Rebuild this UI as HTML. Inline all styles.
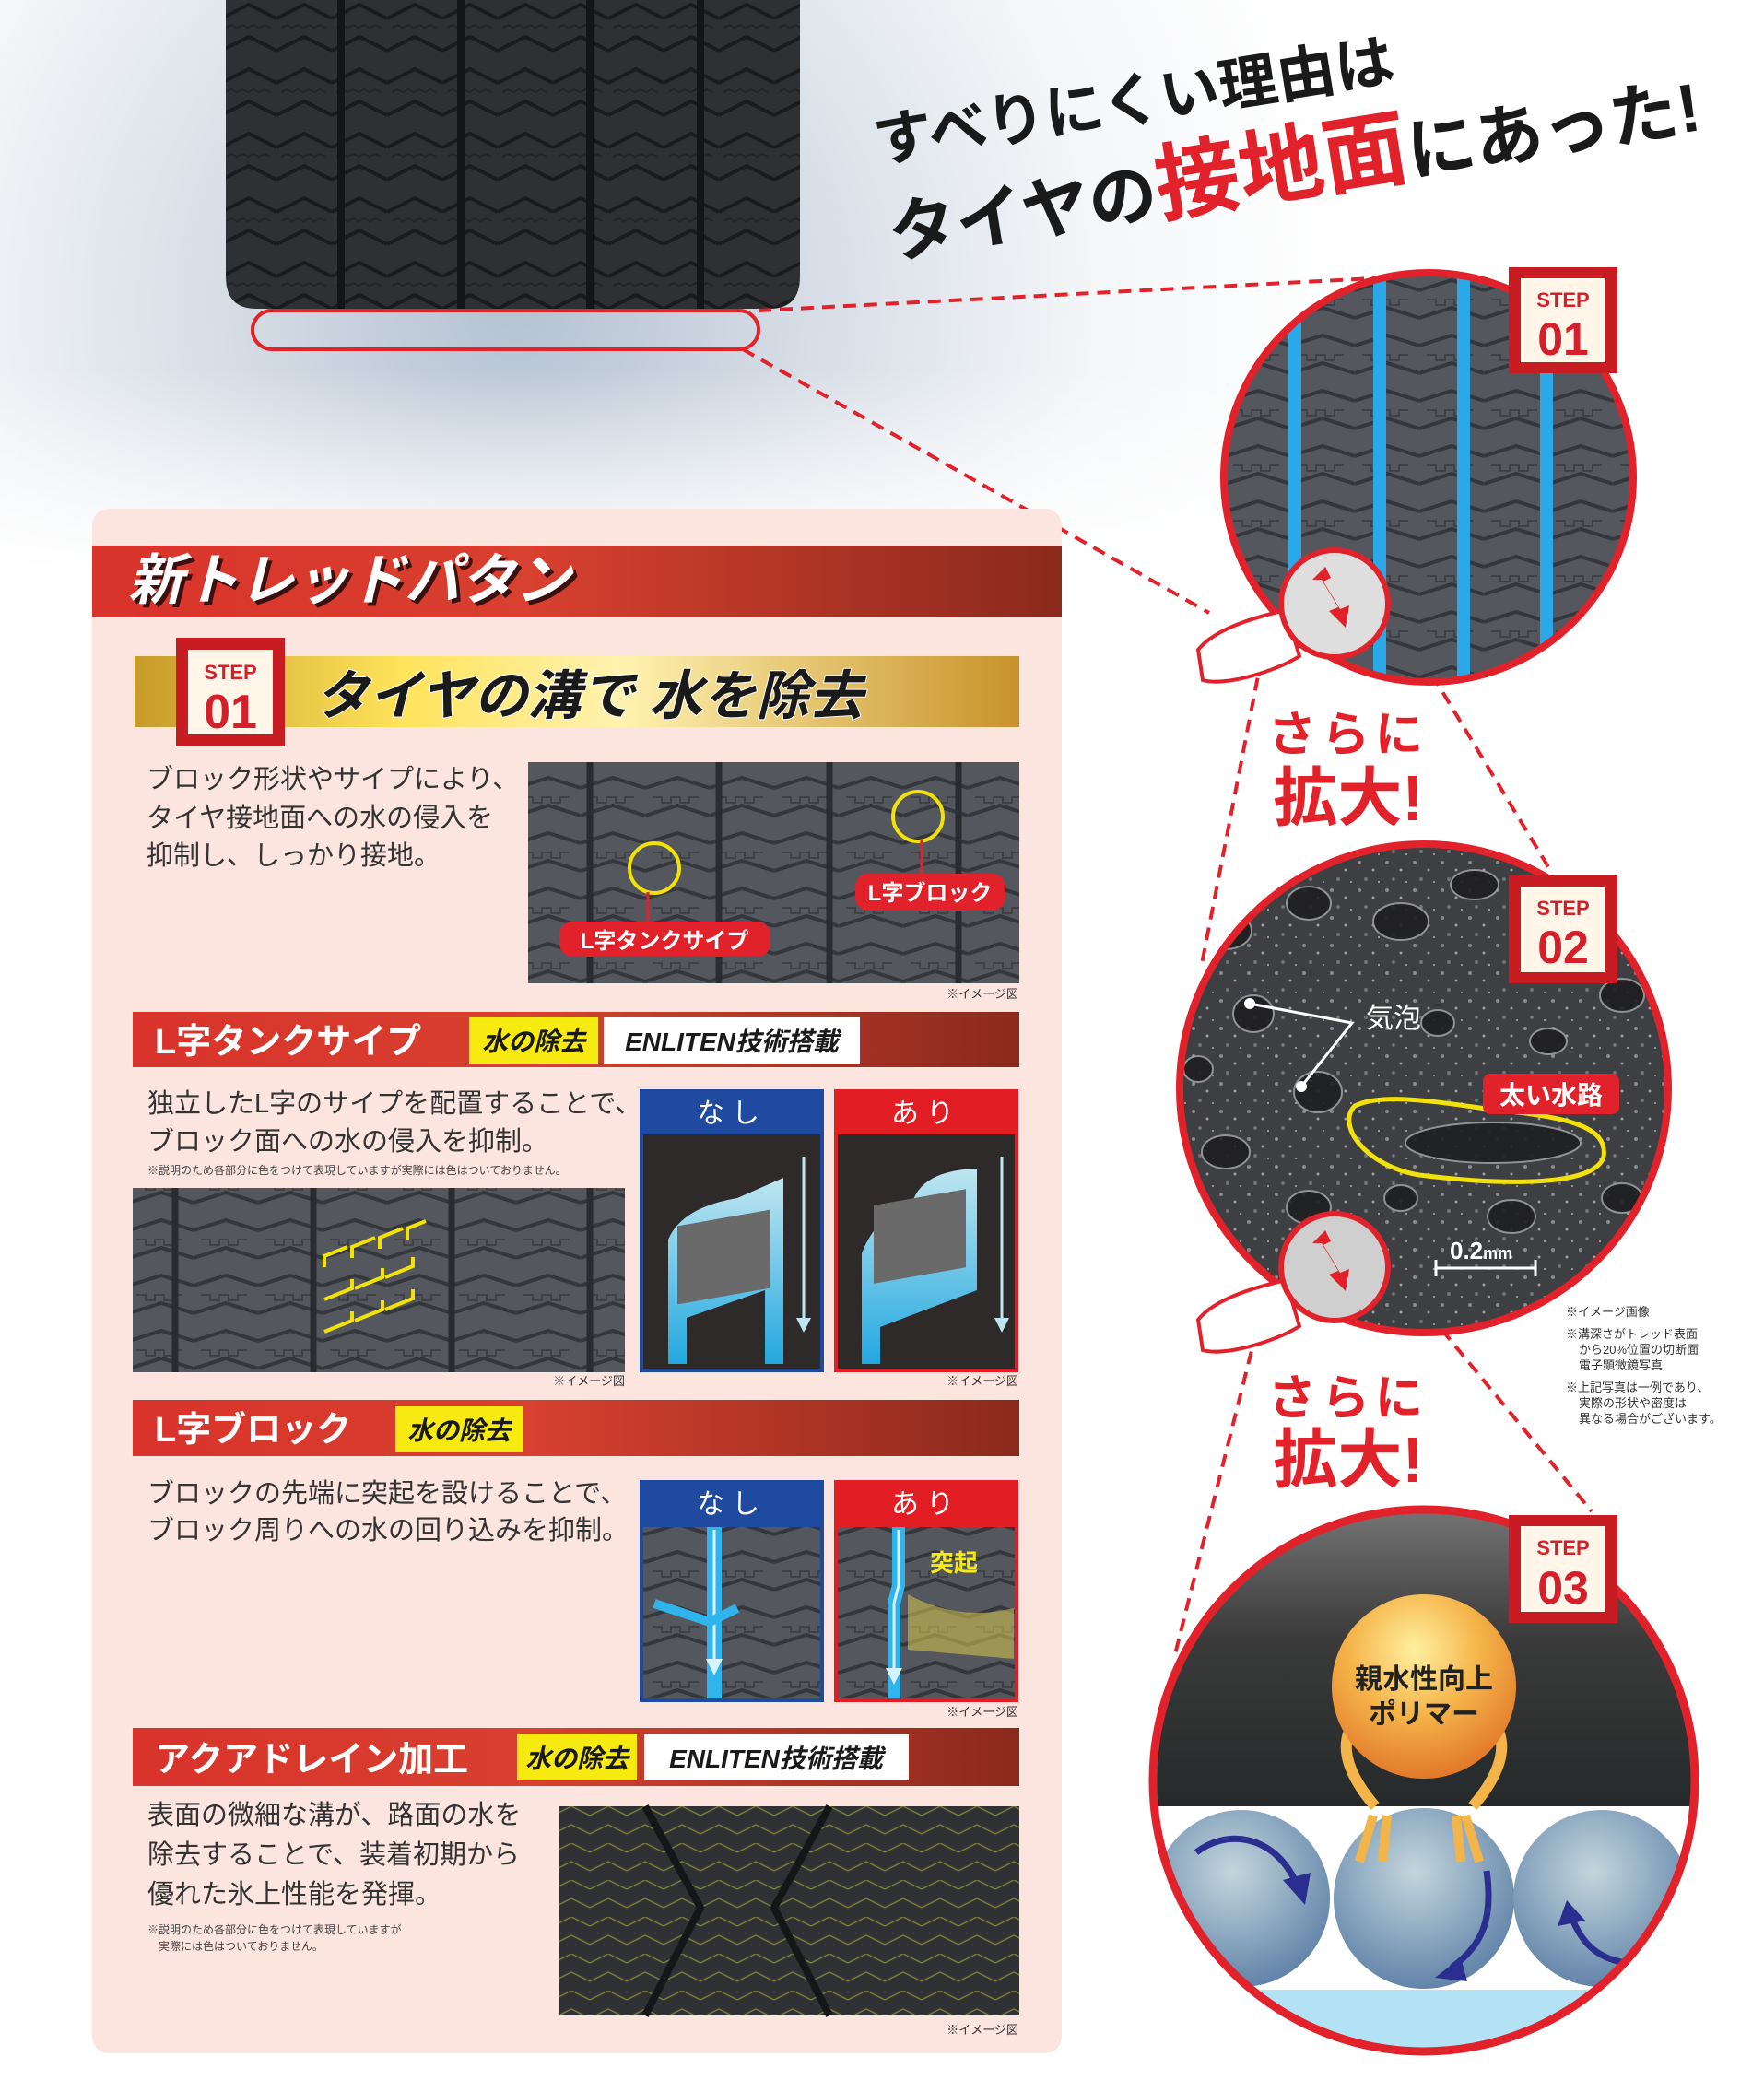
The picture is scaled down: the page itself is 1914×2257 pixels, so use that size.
<!DOCTYPE html>
<html><head><meta charset="utf-8">
<style>
html,body{margin:0;padding:0;background:#fff;}
body{width:1914px;height:2257px;overflow:hidden;position:relative;font-family:"Liberation Sans","Noto Sans CJK JP",sans-serif;}
svg text{font-family:"Liberation Sans","Noto Sans CJK JP",sans-serif;}
</style></head><body>
<svg width="1914" height="2257" viewBox="0 0 1914 2257" xmlns="http://www.w3.org/2000/svg" style="position:absolute;left:0;top:0">
<defs>
<radialGradient id="snow" cx="560" cy="330" r="900" gradientUnits="userSpaceOnUse">
<stop offset="0" stop-color="#b4c2d2"/><stop offset="0.35" stop-color="#d6dde6"/><stop offset="0.7" stop-color="#f4f6f8"/><stop offset="1" stop-color="#ffffff"/>
</radialGradient>
<linearGradient id="fadeW" x1="0" y1="0" x2="0" y2="1"><stop offset="0" stop-color="#fff" stop-opacity="0"/><stop offset="1" stop-color="#fff"/></linearGradient>
<pattern id="tread" width="60" height="70" patternUnits="userSpaceOnUse">
<rect width="60" height="70" fill="#2e3034"/>
<path d="M0 20 L30 5 L60 20 M0 55 L30 40 L60 55" stroke="#1a1b1d" stroke-width="4" fill="none"/>
<path d="M5 30 l6 -3 l6 3 l6 -3 l6 3 l6 -3 l6 3 l6 -3 l6 3" stroke="#232427" stroke-width="2" fill="none"/>
</pattern>
<pattern id="tread2" width="70" height="60" patternUnits="userSpaceOnUse">
<rect width="70" height="60" fill="#54585e"/>
<path d="M0 15 L35 4 L70 15 M0 45 L35 34 L70 45" stroke="#34373b" stroke-width="4" fill="none"/>
<path d="M8 25 h10 v6 h10 v-6 h10 v6 h10 v-6 h10" stroke="#3e4146" stroke-width="2" fill="none"/>
</pattern>
<pattern id="tread3" width="40" height="40" patternUnits="userSpaceOnUse">
<rect width="40" height="40" fill="#2f3134"/>
<path d="M0 10 L20 0 L40 10 M0 30 L20 20 L40 30" stroke="#7a7a3a" stroke-width="1.5" fill="none"/>
</pattern>
<pattern id="speck" width="30" height="30" patternUnits="userSpaceOnUse">
<rect width="30" height="30" fill="#3e3f42"/>
<circle cx="5" cy="6" r="2" fill="#8a8c90"/><circle cx="20" cy="14" r="1.5" fill="#a0a2a6"/><circle cx="12" cy="24" r="2" fill="#707276"/><circle cx="26" cy="27" r="1" fill="#b0b2b6"/>
</pattern>
<linearGradient id="redbar" x1="0" x2="1"><stop offset="0" stop-color="#d9332b"/><stop offset="0.45" stop-color="#d8402f"/><stop offset="1" stop-color="#8a2a1c"/></linearGradient>
<linearGradient id="gold" x1="0" x2="1"><stop offset="0" stop-color="#c79a2a"/><stop offset="0.3" stop-color="#ffe35a"/><stop offset="0.55" stop-color="#fff2b0"/><stop offset="1" stop-color="#c8922a"/></linearGradient>
<radialGradient id="orange" cx="0.45" cy="0.3" r="0.7"><stop offset="0" stop-color="#fff0a0"/><stop offset="0.5" stop-color="#f5b54a"/><stop offset="1" stop-color="#e2792a"/></radialGradient>
<radialGradient id="blue" cx="0.45" cy="0.35" r="0.7"><stop offset="0" stop-color="#c3d6dc"/><stop offset="1" stop-color="#5b7ea6"/></radialGradient>
<linearGradient id="dark3" x1="0" y1="0" x2="0" y2="1"><stop offset="0" stop-color="#777"/><stop offset="0.45" stop-color="#3a3a3a"/><stop offset="1" stop-color="#262a2a"/></linearGradient>
<linearGradient id="water" x1="0" y1="0" x2="0" y2="1"><stop offset="0" stop-color="#bfe6f0"/><stop offset="1" stop-color="#22a8e0"/></linearGradient>
<clipPath id="c1"><circle cx="1550" cy="518" r="222"/></clipPath>
<clipPath id="c2"><circle cx="1545" cy="1181" r="265"/></clipPath>
<clipPath id="c3"><circle cx="1545" cy="1932" r="294"/></clipPath>
</defs>

<!-- snow bg -->
<rect x="0" y="0" width="1914" height="620" fill="url(#snow)"/>
<rect x="0" y="400" width="1914" height="220" fill="url(#fadeW)"/>
<!-- tire -->
<path d="M245 0 H868 V300 Q868 335 835 335 H278 Q245 335 245 300 Z" fill="url(#tread)"/>
<path d="M370 0 V335 M500 0 V335 M640 0 V335 M760 0 V335" stroke="#141516" stroke-width="8"/>
<rect x="274" y="337" width="549" height="42" rx="21" fill="none" stroke="#e0242a" stroke-width="4"/>
<!-- headline -->
<g transform="translate(942,112) rotate(-9)">
<text x="0" y="65" font-size="64" font-weight="bold" fill="#1a1a1a">すべりにくい理由は</text>
<text x="0" y="170" font-size="74" font-weight="bold" fill="#1a1a1a">タイヤの<tspan fill="#e2222a" font-size="92">接地面</tspan>にあった!</text>
</g>

<!-- dashed connectors -->
<g stroke="#e2222a" stroke-width="4" stroke-dasharray="14 9" fill="none">
<path d="M823 337 L1490 302"/>
<path d="M806 379 L1312 665"/>
<path d="M1369 713 L1304 1046"/>
<path d="M1506 653 L1682 944"/>
<path d="M1369 1422 L1274 1799"/>
<path d="M1506 1372 L1727 1640"/>
</g>

<!-- circle 1 -->
<g clip-path="url(#c1)">
<rect x="1320" y="290" width="460" height="460" fill="url(#tread2)"/>
<g stroke="#2aa8e8" stroke-width="14"><path d="M1405 290V750M1497 290V750M1588 290V750M1678 290V750"/></g>
</g>
<circle cx="1550" cy="518" r="222" fill="none" stroke="#e2222a" stroke-width="8"/>
<!-- mag 1 -->
<path d="M1300 705 C1320 680 1370 668 1395 662 L1410 712 C1385 728 1330 745 1305 738 Z" fill="#fff" stroke="#e2222a" stroke-width="4"/>
<circle cx="1448" cy="655" r="58" fill="#dedede" stroke="#e2222a" stroke-width="6"/>
<path d="M1438 615 l-14 14 l10 0 l18 30 l-10 4 l18 18 l4 -24 l-10 4 l-18 -30 l8 -4 z" fill="#e2222a"/>
<!-- さらに 1 -->
<text x="1463" y="815" font-size="52" font-weight="bold" fill="#e2222a" text-anchor="middle" letter-spacing="6">さらに</text>
<text x="1463" y="890" font-size="70" font-weight="bold" fill="#e2222a" text-anchor="middle">拡大!</text>

<!-- circle 2 -->
<g clip-path="url(#c2)">
<rect x="1270" y="910" width="560" height="540" fill="url(#speck)"/>
<g fill="#1e1f21" stroke="#9a9ca0" stroke-width="2" opacity="0.9">
<ellipse cx="1330" cy="1010" rx="28" ry="20"/><ellipse cx="1420" cy="980" rx="24" ry="18"/><ellipse cx="1520" cy="1000" rx="30" ry="20"/>
<ellipse cx="1600" cy="960" rx="26" ry="16"/><ellipse cx="1680" cy="1020" rx="30" ry="22"/><ellipse cx="1760" cy="1080" rx="24" ry="18"/>
<ellipse cx="1360" cy="1100" rx="22" ry="20"/><ellipse cx="1430" cy="1185" rx="26" ry="22"/><ellipse cx="1330" cy="1250" rx="26" ry="18"/>
<ellipse cx="1560" cy="1110" rx="18" ry="14"/><ellipse cx="1680" cy="1130" rx="20" ry="14"/><ellipse cx="1420" cy="1310" rx="24" ry="18"/>
<ellipse cx="1520" cy="1300" rx="18" ry="14"/><ellipse cx="1640" cy="1320" rx="26" ry="18"/><ellipse cx="1760" cy="1300" rx="22" ry="16"/>
<ellipse cx="1300" cy="1160" rx="16" ry="14"/><ellipse cx="1620" cy="1240" rx="95" ry="22"/>
</g>
</g>
<path d="M1470 1200 C1500 1185 1560 1196 1620 1204 C1700 1212 1745 1222 1740 1255 C1730 1290 1620 1285 1540 1275 C1480 1265 1450 1220 1470 1200 Z" fill="none" stroke="#f2e20a" stroke-width="5"/>
<rect x="1609" y="1165" width="148" height="44" rx="8" fill="#e2222a"/>
<text x="1683" y="1198" font-size="28" font-weight="bold" fill="#fff" text-anchor="middle">太い水路</text>
<path d="M1356 1089 L1467 1110 L1412 1179" stroke="#fff" stroke-width="3" fill="none"/>
<circle cx="1356" cy="1089" r="6" fill="#fff"/><circle cx="1412" cy="1179" r="6" fill="#fff"/>
<text x="1482" y="1115" font-size="30" fill="#fff">気泡</text>
<text x="1573" y="1366" font-size="26" font-weight="bold" fill="#fff">0.2<tspan font-size="18">mm</tspan></text>
<path d="M1558 1367 V1385 M1558 1376 H1666 M1666 1367 V1385" stroke="#fff" stroke-width="3" fill="none"/>
<circle cx="1545" cy="1181" r="265" fill="none" stroke="#e2222a" stroke-width="8"/>
<!-- mag 2 -->
<path d="M1300 1432 C1320 1407 1370 1395 1395 1389 L1410 1439 C1385 1455 1330 1472 1305 1465 Z" fill="#fff" stroke="#e2222a" stroke-width="4"/>
<circle cx="1448" cy="1375" r="58" fill="#cfcfcf" stroke="#e2222a" stroke-width="6"/>
<path d="M1438 1335 l-14 14 l10 0 l18 30 l-10 4 l18 18 l4 -24 l-10 4 l-18 -30 l8 -4 z" fill="#e2222a"/>
<!-- notes -->
<g font-size="13" fill="#333">
<text x="1699" y="1428">※イメージ画像</text>
<text x="1699" y="1452">※溝深さがトレッド表面</text>
<text x="1713" y="1469">から20%位置の切断面</text>
<text x="1713" y="1486">電子顕微鏡写真</text>
<text x="1699" y="1510">※上記写真は一例であり、</text>
<text x="1713" y="1527">実際の形状や密度は</text>
<text x="1713" y="1544">異なる場合がございます。</text>
</g>
<!-- さらに 2 -->
<text x="1463" y="1535" font-size="52" font-weight="bold" fill="#e2222a" text-anchor="middle" letter-spacing="6">さらに</text>
<text x="1463" y="1608" font-size="70" font-weight="bold" fill="#e2222a" text-anchor="middle">拡大!</text>

<!-- circle 3 -->
<g clip-path="url(#c3)">
<rect x="1240" y="1630" width="620" height="330" fill="url(#dark3)"/>
<rect x="1240" y="1960" width="620" height="200" fill="#fff"/>
<rect x="1240" y="2159" width="620" height="80" fill="#b3e2f5"/>
<circle cx="1347" cy="2060" r="96" fill="url(#blue)"/>
<circle cx="1545" cy="2060" r="98" fill="url(#blue)"/>
<circle cx="1738" cy="2060" r="96" fill="url(#blue)"/>
</g>
<path d="M1492 1960 C1440 1900 1460 1860 1500 1855 M1598 1960 C1650 1900 1630 1860 1590 1855" stroke="#f3b54a" stroke-width="12" fill="none"/>
<path d="M1490 1970 l-15 50 M1505 1970 l-5 50 M1590 1970 l15 50 M1580 1970 l5 50" stroke="#f3b54a" stroke-width="10"/>
<circle cx="1545" cy="1830" r="100" fill="url(#orange)"/>
<text x="1545" y="1832" font-size="30" font-weight="bold" fill="#222" text-anchor="middle">親水性向上</text>
<text x="1545" y="1870" font-size="30" font-weight="bold" fill="#222" text-anchor="middle">ポリマー</text>
<g stroke="#2a2f8f" stroke-width="7" fill="none">
<path d="M1298 2010 C1330 1985 1380 1990 1405 2040"/>
<path d="M1613 2030 C1620 2080 1610 2110 1575 2135"/>
<path d="M1765 2130 C1730 2125 1715 2105 1705 2080"/>
</g>
<path d="M1392 2040 l30 -8 l-6 35 z M1585 2124 l-28 22 l35 4 z M1690 2090 l10 -28 l20 22 z" fill="#2a2f8f"/>
<circle cx="1545" cy="1932" r="294" fill="none" stroke="#e2222a" stroke-width="9"/>

<!-- right badges -->
<rect x="1637" y="290" width="118" height="115" fill="#c71c22"/>
<rect x="1650" y="302" width="92" height="91" fill="#fff5e8"/>
<text x="1696" y="333" font-size="22" font-weight="bold" fill="#d4202a" text-anchor="middle">STEP</text>
<text x="1696" y="385" font-size="50" font-weight="bold" fill="#d4202a" text-anchor="middle">01</text>
<rect x="1637" y="950" width="118" height="117" fill="#c71c22"/>
<rect x="1650" y="962" width="92" height="93" fill="#fff5e8"/>
<text x="1696" y="993" font-size="22" font-weight="bold" fill="#d4202a" text-anchor="middle">STEP</text>
<text x="1696" y="1045" font-size="50" font-weight="bold" fill="#d4202a" text-anchor="middle">02</text>
<rect x="1637" y="1644" width="118" height="117" fill="#c71c22"/>
<rect x="1650" y="1656" width="92" height="93" fill="#fff5e8"/>
<text x="1696" y="1687" font-size="22" font-weight="bold" fill="#d4202a" text-anchor="middle">STEP</text>
<text x="1696" y="1740" font-size="50" font-weight="bold" fill="#d4202a" text-anchor="middle">03</text>

<!-- left panel -->
<rect x="100" y="552" width="1052" height="1676" rx="18" fill="#fbe5de"/>
<rect x="100" y="592" width="1052" height="77" fill="url(#redbar)"/>
<text x="143" y="654" font-size="60" font-weight="bold" fill="#3a1010" font-style="italic">新トレッドパタン</text>
<text x="139" y="650" font-size="60" font-weight="bold" fill="#fff" font-style="italic">新トレッドパタン</text>

<rect x="146" y="712" width="960" height="77" fill="url(#gold)"/>
<rect x="191" y="692" width="118" height="118" fill="#c71c22"/>
<rect x="204" y="705" width="92" height="92" fill="#fff5e8"/>
<text x="250" y="737" font-size="22" font-weight="bold" fill="#d4202a" text-anchor="middle">STEP</text>
<text x="250" y="790" font-size="52" font-weight="bold" fill="#d4202a" text-anchor="middle">01</text>
<text x="342" y="775" font-size="58" font-weight="bold" fill="#1a1a1a" font-style="italic" stroke="#fff" stroke-width="2" paint-order="stroke">タイヤの溝で 水を除去</text>

<g font-size="29" fill="#333">
<text x="159" y="855">ブロック形状やサイプにより、</text>
<text x="159" y="897">タイヤ接地面への水の侵入を</text>
<text x="159" y="938">抑制し、しっかり接地。</text>
</g>
<rect x="573" y="827" width="533" height="240" fill="url(#tread2)"/>
<path d="M640 827V1067M780 827V1067M900 827V1067M1040 827V1067" stroke="#2a2c30" stroke-width="7"/>
<circle cx="710" cy="942" r="27" fill="none" stroke="#f2e20a" stroke-width="4"/>
<circle cx="996" cy="886" r="27" fill="none" stroke="#f2e20a" stroke-width="4"/>
<path d="M703 968 V1002 M1000 912 V950" stroke="#e2222a" stroke-width="3"/>
<rect x="607" y="1000" width="229" height="38" rx="14" fill="#e2222a"/>
<text x="721" y="1029" font-size="24" font-weight="bold" fill="#fff" text-anchor="middle">L字タンクサイプ</text>
<rect x="928" y="948" width="163" height="40" rx="14" fill="#e2222a"/>
<text x="1009" y="977" font-size="24" font-weight="bold" fill="#fff" text-anchor="middle">L字ブロック</text>
<g font-size="13" fill="#333" text-anchor="end">
<text x="1105" y="1083">※イメージ図</text>
<text x="678" y="1503">※イメージ図</text>
<text x="1105" y="1503">※イメージ図</text>
<text x="1105" y="1862">※イメージ図</text>
<text x="1105" y="2207">※イメージ図</text>
</g>

<!-- L字タンクサイプ -->
<rect x="144" y="1098" width="962" height="60" fill="url(#redbar)"/>
<text x="168" y="1143" font-size="38" font-weight="bold" fill="#fff">L字タンクサイプ</text>
<rect x="509" y="1104" width="140" height="50" fill="#f7ea10"/>
<text x="579" y="1140" font-size="28" font-weight="bold" fill="#1a1a1a" text-anchor="middle" font-style="italic">水の除去</text>
<rect x="655" y="1104" width="278" height="50" fill="#fff"/>
<text x="794" y="1140" font-size="28" font-weight="bold" fill="#1a1a1a" text-anchor="middle" font-style="italic">ENLITEN技術搭載</text>
<g font-size="29" fill="#333">
<text x="160" y="1207">独立したL字のサイプを配置することで、</text>
<text x="160" y="1248">ブロック面への水の侵入を抑制。</text>
</g>
<text x="160" y="1274" font-size="12" fill="#444">※説明のため各部分に色をつけて表現していますが実際には色はついておりません。</text>
<rect x="144" y="1289" width="534" height="200" fill="url(#tread2)"/>
<path d="M190 1289V1489M340 1289V1489M490 1289V1489M640 1289V1489" stroke="#2a2c30" stroke-width="7"/>
<g stroke="#f2e20a" stroke-width="4" fill="none">
<path d="M352 1375 l0 -12 l25 -10 M382 1365 l0 -12 l25 -10 M412 1355 l0 -12 l25 -10 M442 1345 l0 -12 l20 -8"/>
<path d="M352 1410 l30 -12 l0 -10 M385 1398 l30 -12 l0 -10 M418 1386 l30 -12 l0 -10"/>
<path d="M352 1445 l30 -12 l0 -10 M385 1433 l30 -12 l0 -10 M418 1421 l30 -12 l0 -10"/>
</g>
<!-- なし/あり 1 -->
<rect x="694" y="1182" width="200" height="307" fill="#1f4aa0"/>
<rect x="698" y="1231" width="192" height="254" fill="#2e2a2a"/>
<text x="794" y="1218" font-size="30" fill="#fff" text-anchor="middle" letter-spacing="8">なし</text>
<path d="M725 1480 L725 1345 Q740 1310 800 1300 L850 1278 L850 1480 L830 1480 L830 1400 L745 1430 L745 1480 Z" fill="url(#water)"/>
<rect x="735" y="1320" width="100" height="85" fill="#6a6a6a" transform="skewY(-10) translate(0,140)"/>
<path d="M872 1255 V1430" stroke="#bfe6f0" stroke-width="3"/><path d="M864 1430 l8 16 l8 -16z" fill="#bfe6f0"/>
<rect x="905" y="1182" width="200" height="307" fill="#e21d24"/>
<rect x="909" y="1231" width="192" height="254" fill="#2e2a2a"/>
<text x="1005" y="1218" font-size="30" fill="#fff" text-anchor="middle" letter-spacing="8">あり</text>
<path d="M935 1480 L935 1360 Q950 1320 990 1305 Q1000 1270 1060 1268 L1060 1400 L955 1440 L955 1480 Z" fill="url(#water)"/>
<rect x="948" y="1300" width="100" height="85" fill="#6a6a6a" transform="skewY(-10) translate(0,175)"/>
<path d="M1087 1255 V1430" stroke="#bfe6f0" stroke-width="3"/><path d="M1079 1430 l8 16 l8 -16z" fill="#bfe6f0"/>

<!-- L字ブロック -->
<rect x="144" y="1519" width="962" height="61" fill="url(#redbar)"/>
<text x="168" y="1564" font-size="38" font-weight="bold" fill="#fff">L字ブロック</text>
<rect x="429" y="1526" width="139" height="50" fill="#f7ea10"/>
<text x="498" y="1562" font-size="28" font-weight="bold" fill="#1a1a1a" text-anchor="middle" font-style="italic">水の除去</text>
<g font-size="29" fill="#333">
<text x="160" y="1630">ブロックの先端に突起を設けることで、</text>
<text x="160" y="1670">ブロック周りへの水の回り込みを抑制。</text>
</g>
<rect x="694" y="1606" width="200" height="241" fill="#1f4aa0"/>
<rect x="698" y="1657" width="192" height="186" fill="url(#tread2)"/>
<text x="794" y="1642" font-size="30" fill="#fff" text-anchor="middle" letter-spacing="8">なし</text>
<path d="M775 1657 V1843" stroke="#2fb4ee" stroke-width="16"/>
<path d="M775 1660 V1805" stroke="#d8f3ff" stroke-width="3"/><path d="M766 1800 l9 18 l9 -18z" fill="#d8f3ff"/>
<path d="M710 1740 L770 1760 L800 1745" stroke="#2fb4ee" stroke-width="10" fill="none"/>
<rect x="905" y="1606" width="200" height="241" fill="#e21d24"/>
<rect x="909" y="1657" width="192" height="186" fill="url(#tread2)"/>
<text x="1005" y="1642" font-size="30" fill="#fff" text-anchor="middle" letter-spacing="8">あり</text>
<path d="M975 1657 V1720 L970 1740 V1843" stroke="#2fb4ee" stroke-width="14" fill="none"/>
<path d="M975 1660 V1720 L970 1740 V1815" stroke="#d8f3ff" stroke-width="3" fill="none"/><path d="M961 1810 l9 18 l9 -18z" fill="#d8f3ff"/>
<path d="M985 1730 Q1040 1760 1100 1745 L1100 1800 L985 1790 Z" fill="#d8c84a" opacity="0.55"/>
<text x="1035" y="1705" font-size="26" font-weight="bold" fill="#f7ea10" text-anchor="middle">突起</text>

<!-- アクアドレイン -->
<rect x="144" y="1875" width="962" height="63" fill="url(#redbar)"/>
<text x="168" y="1922" font-size="38" font-weight="bold" fill="#fff">アクアドレイン加工</text>
<rect x="561" y="1882" width="130" height="50" fill="#f7ea10"/>
<text x="626" y="1918" font-size="28" font-weight="bold" fill="#1a1a1a" text-anchor="middle" font-style="italic">水の除去</text>
<rect x="699" y="1882" width="287" height="50" fill="#fff"/>
<text x="842" y="1918" font-size="28" font-weight="bold" fill="#1a1a1a" text-anchor="middle" font-style="italic">ENLITEN技術搭載</text>
<g font-size="29" fill="#333">
<text x="160" y="1979">表面の微細な溝が、路面の水を</text>
<text x="160" y="2022">除去することで、装着初期から</text>
<text x="160" y="2065">優れた氷上性能を発揮。</text>
</g>
<text x="160" y="2098" font-size="12" fill="#444">※説明のため各部分に色をつけて表現していますが</text>
<text x="172" y="2116" font-size="12" fill="#444">実際には色はついておりません。</text>
<rect x="607" y="1960" width="499" height="227" fill="url(#tread3)"/>
<path d="M700 1960 L760 2070 L700 2187 M900 1960 L840 2070 L900 2187" stroke="#151617" stroke-width="8" fill="none"/>
</svg>
</body></html>
